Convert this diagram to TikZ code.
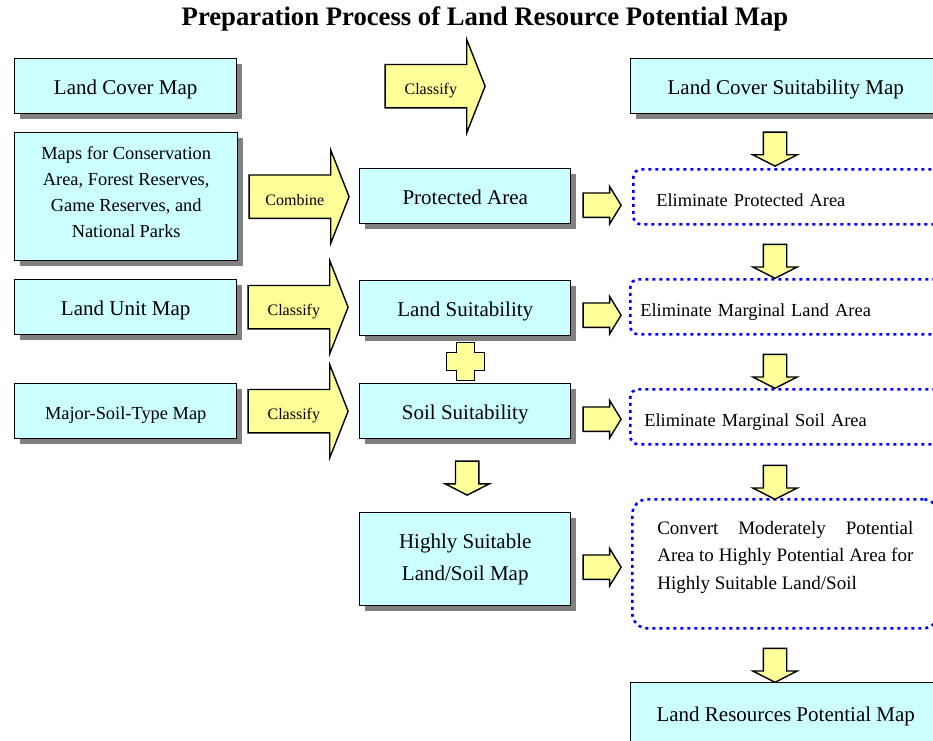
\documentclass[tikz,border=0pt]{standalone}
\usepackage{fontspec}
\setmainfont{Liberation Serif}
\usetikzlibrary{shapes.arrows, shadows, calc}
\definecolor{mapcyan}{HTML}{CCFFFF}
\definecolor{arrowyellow}{HTML}{FFFF99}
\begin{document}
\begin{tikzpicture}[
    x=1pt, y=1pt,
    every node/.style={align=center},
    mapbox/.style={
      draw, line width=1.4pt, fill=mapcyan,
      inner sep=2pt, minimum height=55pt,
      font=\fontsize{21}{32}\selectfont,
      drop shadow={shadow xshift=5pt, shadow yshift=-5pt, fill=black!50, opacity=1},
    },
    oneline/.style={text height=20pt, text depth=3pt},
    stepbox/.style={
      draw=blue, line width=2.6pt, dash pattern=on 3pt off 4pt,
      rounded corners=8pt, minimum height=55pt, inner ysep=0pt,
      align=left, font=\fontsize{18.4}{27.5}\selectfont,
    },
    bigarrow/.style={
      single arrow, draw, line width=1.4pt, fill=arrowyellow,
      minimum height=100pt, single arrow head extend=25pt, single arrow tip angle=137,
      inner xsep=0pt, inner ysep=0pt, text height=29.5pt, text depth=12.5pt,
      font=\fontsize{16}{16}\selectfont,
    },
    downarrow/.style={
      single arrow, draw, line width=1.4pt, fill=arrowyellow, rotate=-90,
      minimum height=34pt, single arrow head extend=10.5pt, single arrow tip angle=126,
      inner xsep=0pt, inner ysep=11pt, text height=0pt, text depth=0pt,
    },
    rightarrow/.style={
      single arrow, draw, line width=1.4pt, fill=arrowyellow,
      minimum height=38pt, single arrow head extend=6.5pt, single arrow tip angle=117,
      inner xsep=0pt, inner ysep=11.5pt, text height=0pt, text depth=0pt,
    },
  ]
\useasboundingbox (0,0) rectangle (933,-740);
\clip (0,0) rectangle (933,-740);
% --- column x-positions
\def\cA{14}
\def\cB{359}
\def\cC{630}
\coordinate (dcol) at (775,0);

\node[font=\bfseries\fontsize{26.7}{30}\selectfont] (title) at (485,-19)
  {Preparation Process of Land Resource Potential Map};

% left column: input maps
\node[mapbox, oneline, anchor=north west, minimum width=222pt] (lcm) at (\cA,-58) {Land Cover Map};
\node[mapbox, anchor=north west, minimum width=223pt, minimum height=128pt,
      font=\fontsize{18.4}{26}\selectfont, text height=91pt, text depth=10pt] (cons) at (\cA,-132)
  {Maps for Conservation\\Area, Forest Reserves,\\Game Reserves, and\\National Parks};
\node[mapbox, oneline, anchor=north west, minimum width=222pt] (lum) at (\cA,-279) {Land Unit Map};
\node[mapbox, oneline, anchor=north west, minimum width=222pt,
      font=\fontsize{18.4}{26}\selectfont] (mst) at (\cA,-383) {Major-Soil-Type Map};

% middle column
\node[mapbox, oneline, anchor=north west, minimum width=211pt] (prot) at (\cB,-168) {Protected Area};
\node[mapbox, oneline, anchor=north west, minimum width=211pt] (lsuit) at (\cB,-280) {Land Suitability};
\node[mapbox, oneline, anchor=north west, minimum width=211pt] (ssuit) at (\cB,-383) {Soil Suitability};
\node[mapbox, anchor=north west, minimum width=211pt, minimum height=93pt] (hsuit) at (\cB,-512)
  {Highly Suitable\\Land/Soil Map};

% right column
\node[mapbox, oneline, anchor=north west, minimum width=310pt] (lcsm) at (\cC,-58) {Land Cover Suitability Map};
\node[stepbox, anchor=north west, inner xsep=23pt, text width=274pt,
      text height=20pt, text depth=0pt] (elim1) at (632,-168) {Eliminate Protected Area};
\node[stepbox, anchor=north west, inner xsep=10pt, text width=300pt,
      text height=20pt, text depth=0pt] (elim2) at (629,-278) {Eliminate Marginal Land Area};
\node[stepbox, anchor=north west, inner xsep=14pt, text width=292pt,
      text height=20pt, text depth=0pt] (elim3) at (629,-388) {Eliminate Marginal Soil Area};
\node[stepbox, anchor=north west, rounded corners=15pt, minimum height=129pt,
      inner xsep=25pt, text width=256pt, align=justify, font=\fontsize{19}{27.5}\selectfont,
      text height=13pt, text depth=72pt] (conv) at (631,-498)
  {Convert Moderately Potential\linebreak Area to Highly Potential Area for\linebreak Highly Suitable Land/Soil};
\node[mapbox, oneline, anchor=north west, minimum width=310pt, minimum height=60pt] (lrpm) at (\cC,-682)
  {Land Resources Potential Map};

% block arrows
\node[bigarrow, anchor=tail] (a1) at ($(lcm.east)+(147,0)$) {Classify};
\node[bigarrow, anchor=tail] (a2) at ($(cons.east)+(10,0)$) {Combine};
\node[bigarrow, anchor=tail] (a3) at ($(lum.east)+(10,0)$) {Classify};
\node[bigarrow, anchor=tail] (a4) at ($(mst.east)+(10,0)$) {Classify};

\node[rightarrow, anchor=tail] (r1) at ($(prot.east)+(11,-9)$) {};
\node[rightarrow, anchor=tail] (r2) at ($(lsuit.east)+(11,-7)$) {};
\node[rightarrow, anchor=tail] (r3) at ($(ssuit.east)+(11,-8)$) {};
\node[rightarrow, anchor=tail] (r4) at ($(hsuit.east)+(11,-8)$) {};

\node[downarrow, anchor=tail] (d1) at ($(dcol |- lcsm.south)+(0,-17)$) {};
\node[downarrow, anchor=tail] (d2) at ($(dcol |- elim1.south)+(0,-18)$) {};
\node[downarrow, anchor=tail] (d3) at ($(dcol |- elim2.south)+(0,-18)$) {};
\node[downarrow, anchor=tail] (d4) at ($(dcol |- elim3.south)+(0,-19)$) {};
\node[downarrow, anchor=tail] (d5) at ($(dcol |- conv.south)+(0,-18)$) {};
\node[downarrow, anchor=tail] (d6) at ($(ssuit.south)+(2,-21)$) {};

% plus sign between the two suitability maps
\coordinate (plus) at ($(lsuit.south)!0.5!(ssuit.north)+(0,-2)$);
\draw[line width=1.4pt, fill=arrowyellow] ([shift={(-9,19)}]plus) -- ++(18,0) -- ++(0,-10)
  -- ++(10,0) -- ++(0,-18) -- ++(-10,0) -- ++(0,-10) -- ++(-18,0) -- ++(0,10)
  -- ++(-10,0) -- ++(0,18) -- ++(10,0) -- cycle;
\end{tikzpicture}
\end{document}
